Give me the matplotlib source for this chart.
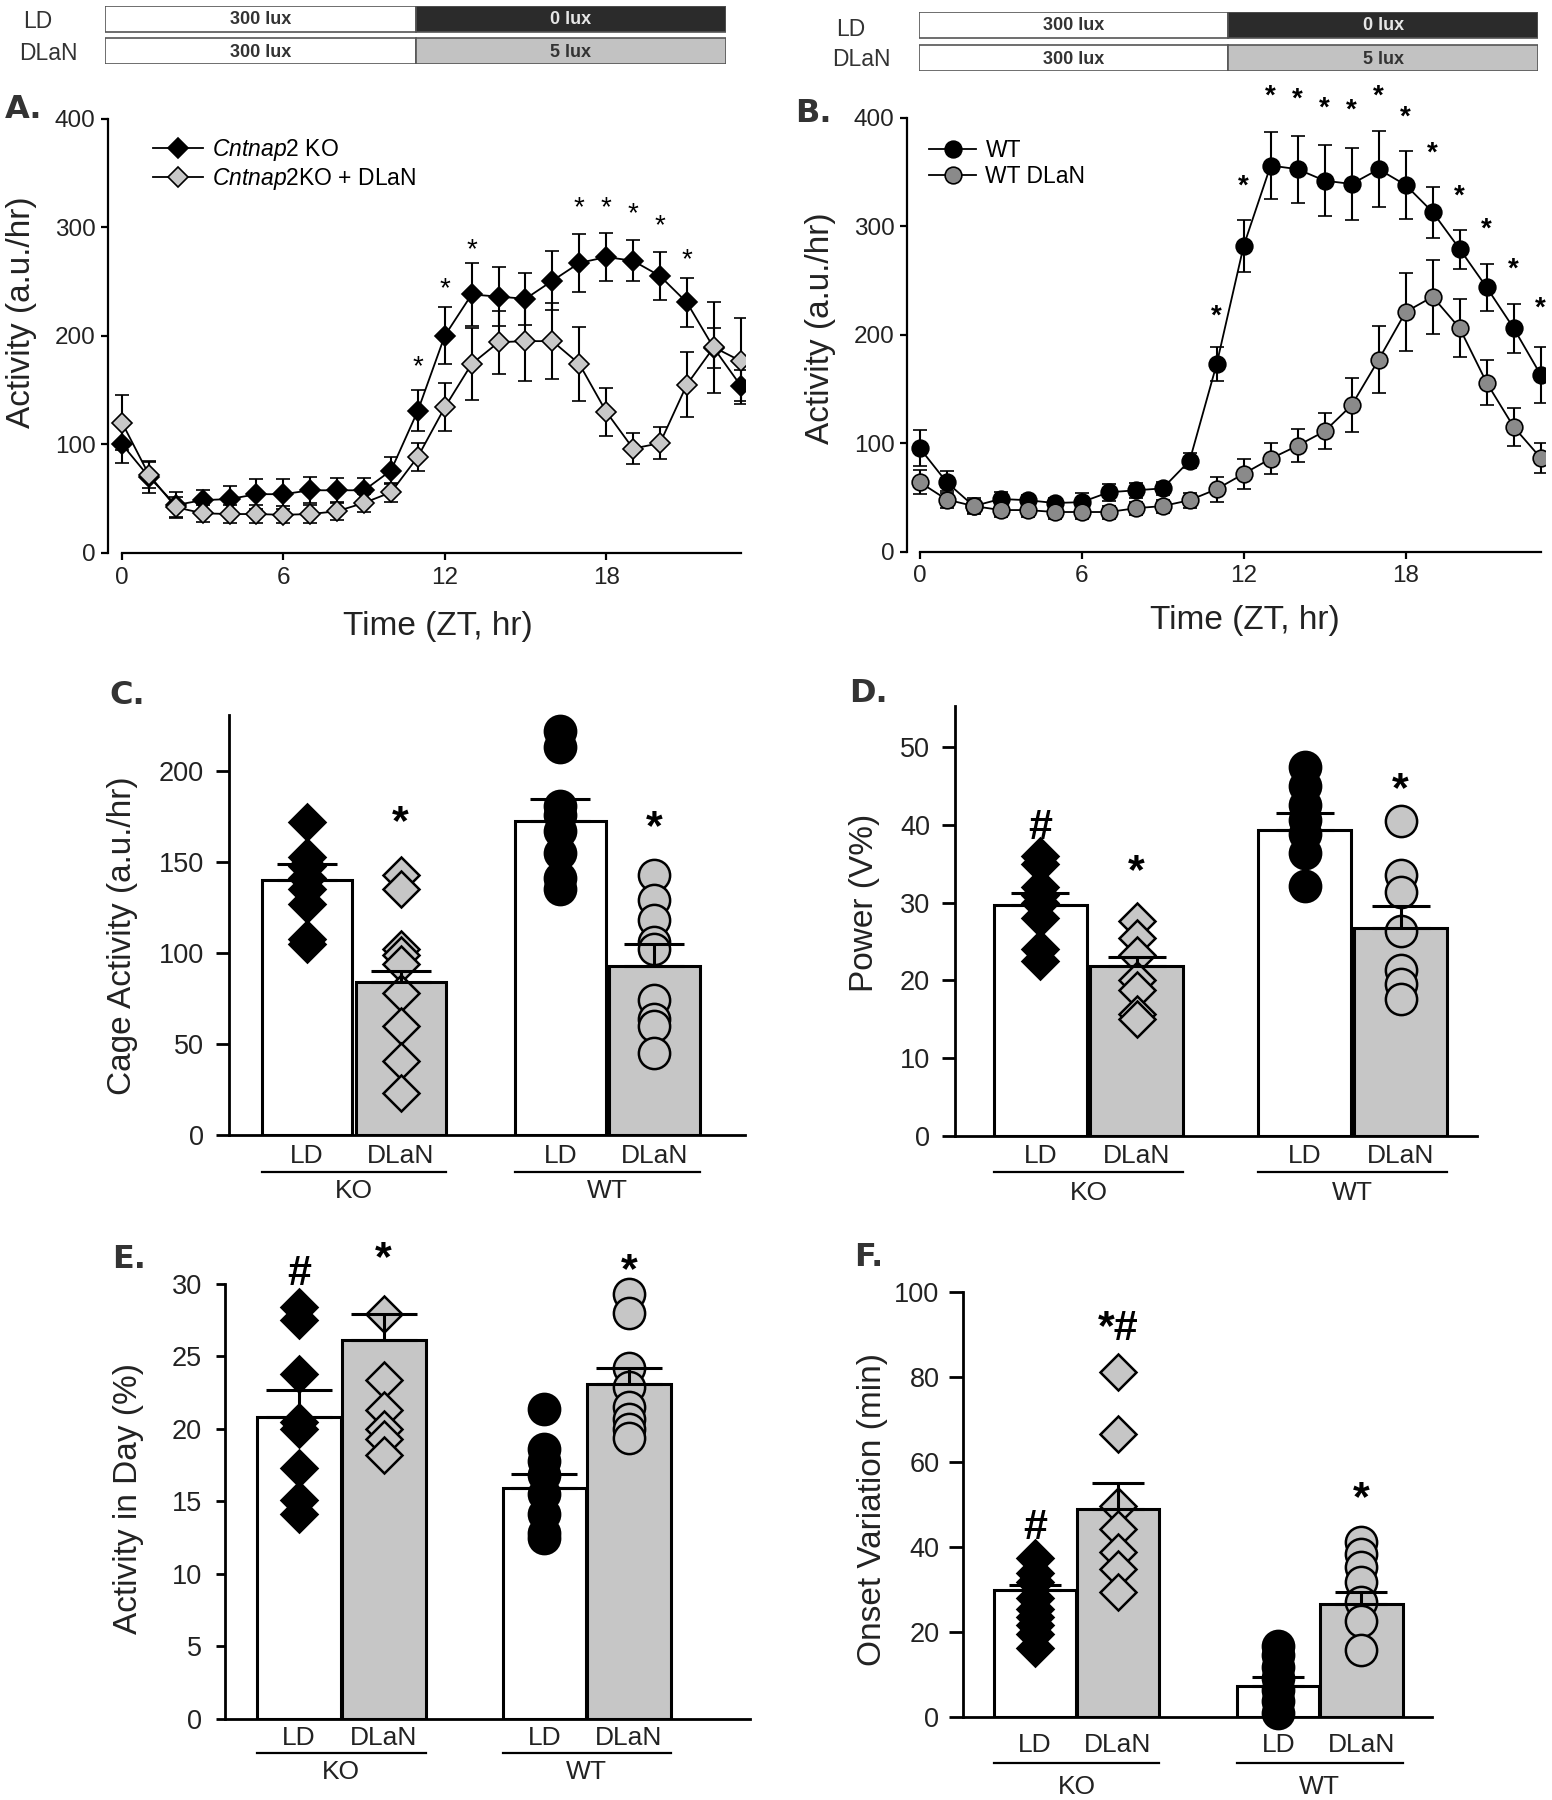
import matplotlib
matplotlib.use("Agg")
import matplotlib.pyplot as plt
import numpy as np
from matplotlib import rcParams
from matplotlib.lines import Line2D

rcParams['font.family'] = ['Liberation Sans', 'DejaVu Sans']
rcParams['mathtext.fontset'] = 'custom'
rcParams['mathtext.it'] = 'Liberation Sans:italic'
rcParams['mathtext.rm'] = 'Liberation Sans'

# ---------------- data ----------------
hours = np.arange(24)

ko_ld = [100, 70, 44, 48.5, 49.5, 54, 54, 57.6, 57.6, 57.6, 75.8, 131, 200, 238, 236, 234,
         250.6, 267, 272.5, 269, 255, 230.6, 188.7, 154]
ko_ld_err = [17, 15, 12, 9, 12, 14, 14, 12, 11, 11, 12, 19, 26, 29, 27, 24, 27, 27, 22, 19, 22, 23, 18, 14]
ko_dlan = [120, 72, 42, 36.4, 35.7, 35.7, 35, 35.7, 38.3, 46, 55.7, 88.5, 134, 174, 194, 195,
           195, 174, 130, 96, 101, 155, 189.4, 176.7]
ko_dlan_err = [25, 12, 9, 8, 8, 8, 8, 8, 8, 8, 9, 13, 22, 33, 29, 37, 35, 34, 22, 14, 15, 30, 42, 40]
a_star_hours = [11, 12, 13, 17, 18, 19, 20, 21]
a_star_y = [175, 247, 283, 321.7, 321.7, 316, 305, 273]

wt_ld = [95.5, 64, 42, 48.5, 47.4, 44.8, 45.6, 54.7, 56.5, 58.3, 83.9, 173, 282, 356, 352.6, 342,
         339, 352.6, 338, 313, 279, 243.6, 206, 163]
wt_ld_err = [17, 10, 7, 6, 5, 5, 8, 8, 7, 6, 7, 16, 24, 31, 31, 33, 33, 35, 31, 23.5, 18, 21.5, 22.5, 26]
wt_dlan = [64, 48, 42, 38.3, 38.3, 36.5, 36.5, 36.5, 40, 42, 47.4, 57.6, 71.8, 85.7, 97.7, 111,
           135, 177, 221, 235, 206, 155.7, 115, 86.4]
wt_dlan_err = [11, 8, 6, 6, 6, 6, 6, 6, 6, 6, 7, 11.6, 14, 14.6, 15, 16.6, 25, 31, 36, 34, 27, 20.6, 17.5, 14]
b_star_hours = [11, 12, 13, 14, 15, 16, 17, 18, 19, 20, 21, 22, 23]
b_star_y = [220.6, 340, 423, 421, 412, 410, 423, 403.6, 370.8, 331, 301, 263.6, 228]

conditions = ["LD", "DLaN", "LD", "DLaN"]
genotypes = ["KO", "WT"]

c_means = [140, 84, 172.6, 93]
c_errs = [8.8, 6.4, 12, 11.8]
c_pts = [[172, 153, 148, 141, 135, 127, 108, 105],
         [143, 135, 102, 99, 94, 78, 60, 41, 23],
         [222, 213, 181, 176, 167, 155, 141, 135],
         [143, 129, 118, 106, 102, 74, 64, 60, 45]]
c_notes = ["", "*", "", "*"]
c_note_y = [0, 176, 0, 173]

d_means = [29.7, 21.8, 39.4, 26.8]
d_errs = [1.5, 1.2, 2.1, 2.8]
d_pts = [[36, 35, 32, 31, 30, 28, 24, 22.5],
         [27.6, 25.5, 23.3, 20, 18.8, 15.7, 15],
         [47.4, 45, 42.6, 40.7, 38.8, 36.4, 32.1],
         [40.5, 33.6, 31.4, 26.4, 21.4, 19.5, 17.6]]
d_notes = ["#", "*", "", "*"]
d_note_y = [40.7, 35, 0, 45.5]

e_means = [20.8, 26.1, 15.9, 23.1]
e_errs = [1.9, 1.8, 1.0, 1.1]
e_pts = [[28.4, 27.5, 23.8, 20.5, 20, 17.3, 15.1, 14.1],
         [27.9, 23.4, 21.3, 20, 19.3, 18.2],
         [21.4, 18.6, 17.8, 16.8, 15.5, 14.1, 12.8, 12.5],
         [29.3, 28, 24.2, 22.9, 21.5, 20.7, 20, 19.4]]
e_notes = ["#", "*", "", "*"]
e_note_y = [31.3, 32.3, 0, 31.5]

f_means = [29.9, 48.9, 7.4, 26.7]
f_errs = [1.3, 6.1, 2.0, 2.7]
f_pts = [[37.5, 33.9, 31.7, 28.1, 25.4, 23.6, 21.8, 19.5, 16.4],
         [81.1, 66.7, 49.6, 44.2, 38.8, 34.8, 29.4],
         [16.8, 14.6, 11.9, 9.2, 6.5, 3.8, 1.1],
         [41.1, 38.4, 35.3, 31.7, 27.2, 22.7, 15.9]]
f_notes = ["#", "*#", "", "*"]
f_note_y = [46.5, 93.3, 0, 53.2]

light_rows = ["LD", "DLaN"]
light_labels = [["300 lux", "0 lux"], ["300 lux", "5 lux"]]
light_colors = [["white", "#2b2b2b"], ["white", "#c2c2c2"]]
light_text = [["#333333", "#e6e6e6"], ["#333333", "#333333"]]

W, H = 1552, 1800
GRAY = "#c6c6c6"
DARK = "#222222"

fig = plt.figure(figsize=(W / 100, H / 100), dpi=100)


def box(x0, y0, x1, y1):
    return [x0 / W, 1 - y1 / H, (x1 - x0) / W, (y1 - y0) / H]


def ftext(x, y, s, **kw):
    fig.text(x / W, 1 - y / H, s, ha="center", va="center", **kw)


def draw_header(x0, y0, x1, y1, ld_xy, dlan_xy):
    hx = fig.add_axes(box(x0, y0, x1, y1))
    for row in range(2):
        hx.barh(row, [12, 12], left=[0, 12], height=0.79, color=light_colors[row],
                edgecolor="#555555", linewidth=1.2)
        for k in range(2):
            hx.text(6 + 12 * k, row + 0.03, light_labels[row][k], ha="center", va="center",
                    fontsize=13, fontweight="bold", color=light_text[row][k])
    hx.set_xlim(0, 24)
    hx.set_ylim(1.395, -0.395)
    hx.axis("off")
    ftext(*ld_xy, light_rows[0], fontsize=16.5, color="#333333")
    ftext(*dlan_xy, light_rows[1], fontsize=16.5, color="#333333")


def line_panel(rect, xlim, s1, e1, s2, e2, marker, fill2, ms, labels, stars_x, stars_y,
               star_bold, leg_anchor, handlelen):
    ax = fig.add_axes(box(*rect))
    ax.errorbar(hours, s1, yerr=e1, fmt="-" + marker, color="k", mfc="k", mec="k", ms=ms,
                lw=1.3, elinewidth=1.5, capsize=5, capthick=1.5, mew=1.2, zorder=3)
    ax.errorbar(hours, s2, yerr=e2, fmt="-" + marker, color="k", mfc=fill2, mec="k", ms=ms,
                lw=1.3, elinewidth=1.5, capsize=5, capthick=1.5, mew=1.2, zorder=3)
    for hx_, hy_ in zip(stars_x, stars_y):
        ax.annotate("*", (hx_, hy_), xytext=(0, -3), textcoords="offset points",
                    ha="center", va="center", fontsize=20,
                    fontweight="bold" if star_bold else "normal", annotation_clip=False)
    ax.set_xlim(*xlim)
    ax.set_ylim(0, 400)
    ax.set_xticks([0, 6, 12, 18])
    ax.set_yticks([0, 100, 200, 300, 400])
    ax.spines["top"].set_visible(False)
    ax.spines["right"].set_visible(False)
    ax.spines["left"].set_bounds(0, 400)
    ax.spines["bottom"].set_bounds(0, 23)
    for sp in ("left", "bottom"):
        ax.spines[sp].set_linewidth(1.6)
    ax.tick_params(axis="both", labelsize=17.5, width=1.6, length=5, pad=4, labelcolor=DARK)
    ax.tick_params(axis="x", pad=5)
    ax.patch.set_alpha(0)
    handles = [Line2D([], [], color="k", lw=1.3, marker=marker, mfc="k", mec="k", ms=ms, mew=1.2),
               Line2D([], [], color="k", lw=1.3, marker=marker, mfc=fill2, mec="k", ms=ms, mew=1.2)]
    ax.legend(handles, labels, loc="upper left", bbox_to_anchor=leg_anchor, frameon=False,
              fontsize=16.5, handlelength=handlelen, handletextpad=0.4, labelspacing=0.12,
              borderpad=0, borderaxespad=0)
    return ax


def bar_panel(rect, pos, width, xlim, ylim, yticks, means, errs, pts, notes, note_y,
              capsize, tick_len, tick_pad, offs):
    ax = fig.add_axes(box(*rect))
    hpx = rect[3] - rect[1]
    fills = ["white", GRAY, "white", GRAY]
    ax.bar(pos, means, width=width, color=fills, edgecolor="k", linewidth=2.2, zorder=2)
    markers = ["D", "D", "o", "o"]
    mfills = ["k", GRAY, "k", GRAY]
    sizes = [18.5, 18.5, 22.5, 22.5]
    for i in range(4):
        ax.plot([pos[i]] * len(pts[i]), pts[i], ls="none", marker=markers[i], ms=sizes[i],
                mfc=mfills[i], mec="k", mew=1.8, zorder=3, clip_on=False)
    ax.errorbar(pos, means, yerr=[[0] * 4, errs], fmt="none", ecolor="k", elinewidth=2.2,
                capsize=capsize, capthick=2.2, zorder=4)
    for i in range(4):
        if notes[i]:
            ax.annotate(notes[i], (pos[i], note_y[i]), xytext=(0, -6), textcoords="offset points",
                        ha="center", va="center", fontsize=31, fontweight="bold",
                        annotation_clip=False)
    ax.set_xlim(*xlim)
    ax.set_ylim(*ylim)
    ax.set_yticks(yticks)
    ax.set_xticks([])
    ax.spines["top"].set_visible(False)
    ax.spines["right"].set_visible(False)
    for sp in ("left", "bottom"):
        ax.spines[sp].set_linewidth(2.0)
    ax.tick_params(axis="y", labelsize=19.5, width=2.0, length=tick_len, pad=tick_pad,
                   labelcolor=DARK)
    tr = ax.get_xaxis_transform()
    lab_off, line_off, grp_off = [-o / hpx for o in offs]
    for i in range(4):
        ax.text(pos[i], lab_off, conditions[i], transform=tr, ha="center", va="center",
                fontsize=19, color=DARK)
    for g in range(2):
        xa = pos[2 * g] - width / 2
        xb = pos[2 * g + 1] + width / 2
        ax.plot([xa, xb], [line_off, line_off], transform=tr, color="k", lw=1.6, clip_on=False)
        ax.text((pos[2 * g] + pos[2 * g + 1]) / 2, grp_off, genotypes[g], transform=tr,
                ha="center", va="center", fontsize=19, color=DARK)
    ax.patch.set_alpha(0)
    return ax


# ---------------- headers ----------------
draw_header(105, 5.9, 726, 64, (38, 21), (48, 54))
draw_header(918.6, 11.9, 1538, 71.2, (851, 29), (861, 60))

# ---------------- A & B ----------------
line_panel((108, 118.6, 745, 552.8), (-0.52, 23.16), ko_ld, ko_ld_err, ko_dlan, ko_dlan_err,
           "D", "#c8c8c8", 10,
           [r"$\mathit{Cntnap2}$ KO", r"$\mathit{Cntnap2}$KO + DLaN"],
           a_star_hours, a_star_y, False, (0.07, 0.958), 2.2)
line_panel((907, 117.8, 1545, 551.6), (-0.47, 23.16), wt_ld, wt_ld_err, wt_dlan, wt_dlan_err,
           "o", "#8a8a8a", 12, ["WT", "WT DLaN"],
           b_star_hours, b_star_y, True, (0.035, 0.95), 2.05)

ftext(22, 312, "Activity (a.u./hr)", rotation=90, fontsize=24, color=DARK)
ftext(438, 626, "Time (ZT, hr)", fontsize=24, color=DARK)
ftext(820, 328, "Activity (a.u./hr)", rotation=90, fontsize=24, color=DARK)
ftext(1245, 621, "Time (ZT, hr)", fontsize=24, color=DARK)

# ---------------- C-F ----------------
bar_panel((228.7, 715.4, 745, 1135.3), [0, 1, 2.7, 3.7], 0.96, (-0.83, 4.663), (0, 230.5),
          [0, 50, 100, 150, 200], c_means, c_errs, c_pts, c_notes, c_note_y,
          21.5, 9.5, 8.5, (21, 37, 56))
bar_panel((955, 706, 1476.5, 1136), [0, 1, 2.75, 3.75], 0.97, (-0.89, 4.54), (0, 55.3),
          [0, 10, 20, 30, 40, 50], d_means, d_errs, d_pts, d_notes, d_note_y,
          21, 9.5, 8.5, (20, 36, 57))
bar_panel((225, 1284, 750, 1718.6), [0, 1, 2.9, 3.9], 0.99, (-0.875, 5.33), (0, 30),
          [0, 5, 10, 15, 20, 25, 30], e_means, e_errs, e_pts, e_notes, e_note_y,
          24, 6.5, 10, (19, 34.5, 53.5))
bar_panel((963, 1291.8, 1432, 1717.4), [0, 1, 2.93, 3.93], 0.99, (-0.867, 4.78), (0, 100),
          [0, 20, 40, 60, 80, 100], f_means, f_errs, f_pts, f_notes, f_note_y,
          19, 10, 7, (27.6, 45.6, 69.6))

ftext(122.5, 936, "Cage Activity (a.u./hr)", rotation=90, fontsize=24, color=DARK)
ftext(864.5, 903, "Power (V%)", rotation=90, fontsize=24, color=DARK)
ftext(129, 1499, "Activity in Day (%)", rotation=90, fontsize=24, color=DARK)
ftext(872.5, 1510, "Onset Variation (min)", rotation=90, fontsize=24, color=DARK)

# panel letters
for lx, ly, lt in [(23.5, 109, "A."), (813, 114, "B."), (127.5, 695, "C."),
                   (868, 693, "D."), (129, 1259, "E."), (868.5, 1258, "F.")]:
    ftext(lx, ly, lt, fontsize=23, fontweight="bold", color="#333333", family="DejaVu Sans")

fig.savefig("out.png", dpi=100)
